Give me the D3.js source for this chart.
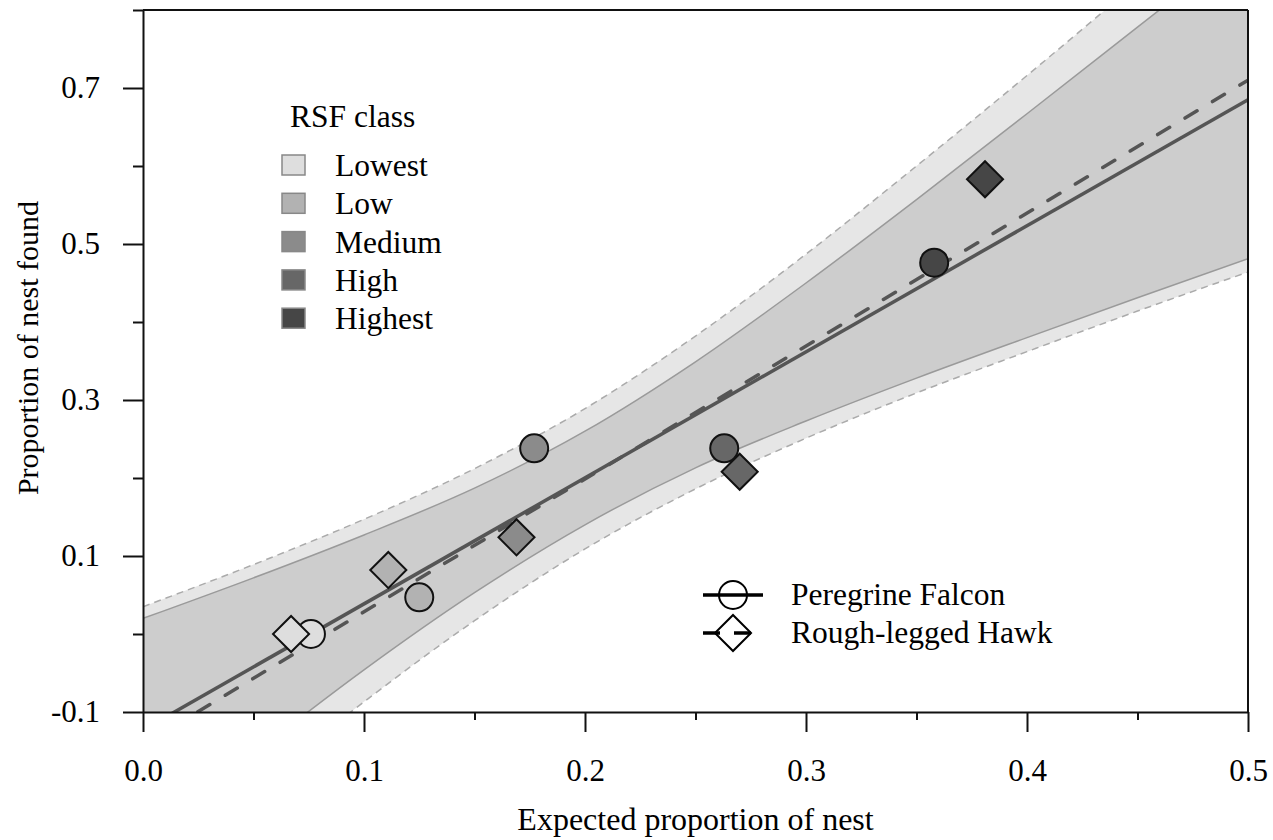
<!DOCTYPE html>
<html>
<head>
<meta charset="utf-8">
<script src="https://cdn.jsdelivr.net/npm/d3@7"></script>
<style>
  body { margin: 0; background: #fff; }
  text { font-family: "Liberation Serif", "Times New Roman", serif; fill: #000; }
</style>
</head>
<body>
<svg id="chart" width="1273" height="840"></svg>
<script>
// RSF classes, lowest to highest
var classes = ["Lowest", "Low", "Medium", "High", "Highest"];
var classColors = ["#dedede", "#b2b2b2", "#8b8b8b", "#676767", "#464646"];

// observed points (expected vs found), one per class
var falconExpected = [0.076, 0.125, 0.177, 0.263, 0.358];
var falconFound    = [0.000, 0.047, 0.238, 0.238, 0.476];
var hawkExpected   = [0.067, 0.111, 0.169, 0.270, 0.381];
var hawkFound      = [0.000, 0.082, 0.124, 0.208, 0.583];

// fitted lines, value at x = 0 and x = 0.5
var fitX      = [0, 0.5];
var falconFit = [-0.123, 0.685];
var hawkFit   = [-0.142, 0.710];

// confidence bands read at every 0.05
var bandX       = [0, 0.05, 0.1, 0.15, 0.2, 0.25, 0.3, 0.35, 0.4, 0.45, 0.5];
var falconUpper = [0.020, 0.072, 0.127, 0.187, 0.260, 0.349, 0.450, 0.557, 0.667, 0.778, 0.889];
var falconLower = [-0.267, -0.154, -0.046, 0.053, 0.140, 0.213, 0.273, 0.328, 0.380, 0.431, 0.481];
var hawkUpper   = [0.035, 0.089, 0.147, 0.212, 0.289, 0.382, 0.487, 0.600, 0.716, 0.835, 0.955];
var hawkLower   = [-0.318, -0.200, -0.087, 0.017, 0.109, 0.186, 0.251, 0.309, 0.362, 0.414, 0.464];

// ticks
var xMajor = [0, 0.1, 0.2, 0.3, 0.4, 0.5];
var xMinor = [0.05, 0.15, 0.25, 0.35, 0.45];
var yMajor = [-0.1, 0.1, 0.3, 0.5, 0.7];
var yMinor = [0, 0.2, 0.4, 0.6, 0.8];

var species = ["Peregrine Falcon", "Rough-legged Hawk"];

var svg = d3.select("#chart");

var x = d3.scaleLinear().domain([0, 0.5]).range([143, 1248]);
var y = d3.scaleLinear().domain([-0.1, 0.8]).range([712, 10]);

svg.append("clipPath").attr("id", "plotclip")
  .append("rect")
    .attr("x", x(0)).attr("y", y(0.8))
    .attr("width", x(0.5) - x(0)).attr("height", y(-0.1) - y(0.8));

var plot = svg.append("g").attr("clip-path", "url(#plotclip)");

function band(lo, hi) {
  return bandX.map(function(d, i) { return {x: d, lo: lo[i], hi: hi[i]}; });
}
var area = d3.area()
    .x(function(d) { return x(d.x); })
    .y0(function(d) { return y(d.lo); })
    .y1(function(d) { return y(d.hi); })
    .curve(d3.curveMonotoneX);
var edge = function(key) {
  return d3.line()
    .x(function(d) { return x(d.x); })
    .y(function(d) { return y(d[key]); })
    .curve(d3.curveMonotoneX);
};

// outer band (hawk), dashed edges
var hb = band(hawkLower, hawkUpper);
plot.append("path").datum(hb).attr("d", area).attr("fill", "#e6e6e6");
// inner band (falcon), solid edges
var fb = band(falconLower, falconUpper);
plot.append("path").datum(fb).attr("d", area).attr("fill", "#cdcdcd");

["lo", "hi"].forEach(function(k) {
  plot.append("path").datum(hb).attr("d", edge(k))
    .attr("fill", "none").attr("stroke", "#ababab")
    .attr("stroke-width", 1.5).attr("stroke-dasharray", "7,5");
  plot.append("path").datum(fb).attr("d", edge(k))
    .attr("fill", "none").attr("stroke", "#9a9a9a").attr("stroke-width", 1.5);
});

// fitted lines
var fitLine = d3.line()
    .x(function(d) { return x(d[0]); })
    .y(function(d) { return y(d[1]); });
plot.append("path")
  .datum(fitX.map(function(d, i) { return [d, falconFit[i]]; }))
  .attr("d", fitLine)
  .attr("fill", "none").attr("stroke", "#555").attr("stroke-width", 3.5);
plot.append("path")
  .datum(fitX.map(function(d, i) { return [d, hawkFit[i]]; }))
  .attr("d", fitLine)
  .attr("fill", "none").attr("stroke", "#555").attr("stroke-width", 3.5)
  .attr("stroke-linecap", "round").attr("stroke-dasharray", "14,18");

// points: circles then diamonds on top
var diamond = d3.symbol().type(d3.symbolSquare).size(650);

svg.append("g").selectAll("circle")
  .data(falconExpected)
  .join("circle")
    .attr("cx", function(d) { return x(d); })
    .attr("cy", function(d, i) { return y(falconFound[i]); })
    .attr("r", 14)
    .attr("fill", function(d, i) { return classColors[i]; })
    .attr("stroke", "#111").attr("stroke-width", 2);

svg.append("g").selectAll("path")
  .data(hawkExpected)
  .join("path")
    .attr("d", diamond)
    .attr("transform", function(d, i) {
      return "translate(" + x(d) + "," + y(hawkFound[i]) + ") rotate(45)";
    })
    .attr("fill", function(d, i) { return classColors[i]; })
    .attr("stroke", "#111").attr("stroke-width", 2);

// axes
var fmt = function(d) { return d.toFixed(1); };

var gx = svg.append("g").attr("transform", "translate(0," + y(-0.1) + ")")
  .call(d3.axisBottom(x).tickValues(xMajor).tickSize(20).tickSizeOuter(0)
        .tickPadding(27).tickFormat(fmt));
svg.append("g").attr("transform", "translate(0," + y(-0.1) + ")")
  .call(d3.axisBottom(x).tickValues(xMinor).tickSize(8).tickFormat(""))
  .call(function(g) { g.select(".domain").remove(); });

var gy = svg.append("g").attr("transform", "translate(" + x(0) + ",0)")
  .call(d3.axisLeft(y).tickValues(yMajor).tickSize(20).tickSizeOuter(0)
        .tickPadding(23).tickFormat(fmt));
svg.append("g").attr("transform", "translate(" + x(0) + ",0)")
  .call(d3.axisLeft(y).tickValues(yMinor).tickSize(10).tickFormat(""))
  .call(function(g) { g.select(".domain").remove(); });

svg.selectAll(".tick line, .domain").attr("stroke", "#111").attr("stroke-width", 2);
svg.selectAll(".tick text")
  .attr("font-family", "Liberation Serif, Times New Roman, serif")
  .attr("font-size", 31).attr("fill", "#000");

// top and right frame
svg.append("line")
  .attr("x1", x(0)).attr("x2", x(0.5)).attr("y1", y(0.8)).attr("y2", y(0.8))
  .attr("stroke", "#111").attr("stroke-width", 2);
svg.append("line")
  .attr("x1", x(0.5)).attr("x2", x(0.5)).attr("y1", y(0.8)).attr("y2", y(-0.1))
  .attr("stroke", "#111").attr("stroke-width", 2);

// axis titles
svg.append("text")
  .attr("x", (x(0) + x(0.5)) / 2).attr("y", 830)
  .attr("text-anchor", "middle").attr("font-size", 32)
  .text("Expected proportion of nest");
svg.append("text")
  .attr("transform", "translate(38,348) rotate(-90)")
  .attr("text-anchor", "middle").attr("font-size", 30)
  .text("Proportion of nest found");

// RSF class legend
var leg = svg.append("g");
leg.append("text").attr("x", 290).attr("y", 127).attr("font-size", 31.5).text("RSF class");
var items = leg.selectAll("g.item").data(classes).join("g")
    .attr("class", "item")
    .attr("transform", function(d, i) { return "translate(282," + (165 + i * 38.3) + ")"; });
items.append("rect")
  .attr("x", 0).attr("y", -10).attr("width", 23).attr("height", 20)
  .attr("fill", function(d, i) { return classColors[i]; })
  .attr("stroke", "#888").attr("stroke-width", 1.5);
items.append("text")
  .attr("x", 53).attr("y", 11).attr("font-size", 31.5)
  .text(function(d) { return d; });

// species legend
var leg2 = svg.append("g").attr("transform", "translate(703,595)");
var rows = leg2.selectAll("g").data(species).join("g")
    .attr("transform", function(d, i) { return "translate(0," + i * 38 + ")"; });
rows.filter(function(d, i) { return i == 0; })
  .append("circle").attr("cx", 30).attr("cy", 0).attr("r", 14)
  .attr("fill", "#fff").attr("stroke", "#000").attr("stroke-width", 2);
rows.filter(function(d, i) { return i == 1; })
  .append("path").attr("d", diamond)
  .attr("transform", "translate(30,0) rotate(45)")
  .attr("fill", "#fff").attr("stroke", "#000").attr("stroke-width", 2);
rows.append("line")
  .attr("x1", 0).attr("x2", 60).attr("y1", 0).attr("y2", 0)
  .attr("stroke", "#000").attr("stroke-width", 3.5)
  .attr("stroke-dasharray", function(d, i) { return i == 1 ? "17,14" : null; });
rows.append("text")
  .attr("x", 88).attr("y", 10).attr("font-size", 31.5)
  .text(function(d) { return d; });
</script>
</body>
</html>
